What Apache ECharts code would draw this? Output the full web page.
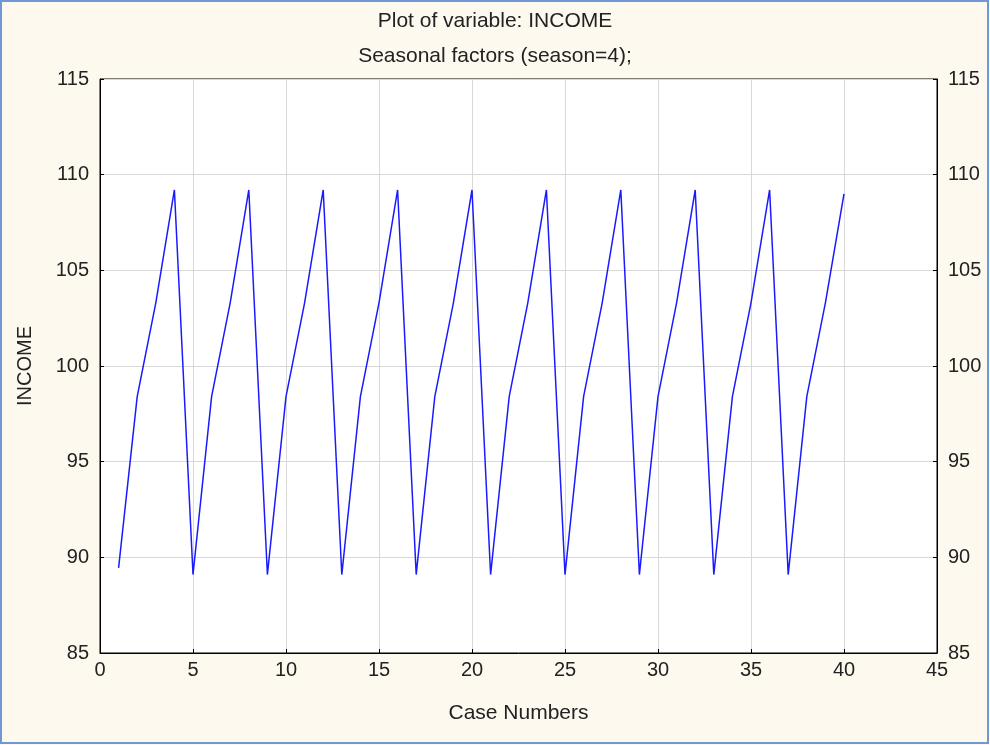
<!DOCTYPE html>
<html>
<head>
<meta charset="utf-8">
<script src="https://cdn.jsdelivr.net/npm/echarts@6/dist/echarts.min.js"></script>
<style>
html,body{margin:0;padding:0;background:#fdf9ef;}
#chart{width:990px;height:745px;}
</style>
</head>
<body>
<div id="chart"></div>
<script>
const titleText = "Plot of variable: INCOME";
const subtitleText = "Seasonal factors (season=4);";
const xAxisName = "Case Numbers";
const yAxisName = "INCOME";
const xTicks = [0, 5, 10, 15, 20, 25, 30, 35, 40, 45];
const yTicks = [85, 90, 95, 100, 105, 110, 115];
const caseNumbers = [1,2,3,4,5,6,7,8,9,10,11,12,13,14,15,16,17,18,19,20,
                     21,22,23,24,25,26,27,28,29,30,31,32,33,34,35,36,37,38,39,40];
const incomeValues = [
  89.45, 98.4, 103.3, 109.2,
  89.1, 98.4, 103.3, 109.2,
  89.1, 98.4, 103.3, 109.2,
  89.1, 98.4, 103.3, 109.2,
  89.1, 98.4, 103.3, 109.2,
  89.1, 98.4, 103.3, 109.2,
  89.1, 98.4, 103.3, 109.2,
  89.1, 98.4, 103.3, 109.2,
  89.1, 98.4, 103.3, 109.2,
  89.1, 98.4, 103.3, 109.0
];

const chart = echarts.init(document.getElementById('chart'), null, {renderer: 'canvas'});
const fontFamily = '"Liberation Sans", Arial, sans-serif';
const textColor = '#222';
const fs = 20;
const tfs = 21;

function yAxisDef(pos) {
  return {
    type: 'value',
    position: pos,
    min: yTicks[0],
    max: yTicks[yTicks.length - 1],
    interval: yTicks[1] - yTicks[0],
    axisLine: {show: true, onZero: false, lineStyle: {color: '#000', width: 1}},
    axisTick: {show: true, inside: true, length: 4, lineStyle: {color: '#000'}},
    axisLabel: {color: textColor, fontSize: fs, fontFamily: fontFamily, margin: 11},
    splitLine: {show: pos === 'left', lineStyle: {color: '#d9d9d9', width: 1}}
  };
}

const y0 = yAxisDef('left');
y0.name = yAxisName;
y0.nameLocation = 'middle';
y0.nameGap = 65;
y0.nameRotate = 90;
y0.nameTextStyle = {color: textColor, fontSize: fs, fontFamily: fontFamily};

chart.setOption({
  animation: false,
  backgroundColor: '#fdf9ef',
  title: [
    {text: titleText, left: 'center', top: 6,
     textStyle: {color: textColor, fontSize: tfs, fontWeight: 'normal', fontFamily: fontFamily}},
    {text: subtitleText, left: 'center', top: 41,
     textStyle: {color: textColor, fontSize: tfs, fontWeight: 'normal', fontFamily: fontFamily}}
  ],
  grid: {
    left: 100, right: 53, top: 79, bottom: 92,
    show: true, backgroundColor: '#ffffff', borderColor: '#000', borderWidth: 1
  },
  xAxis: {
    type: 'value',
    min: xTicks[0],
    max: xTicks[xTicks.length - 1],
    interval: xTicks[1] - xTicks[0],
    name: xAxisName,
    nameLocation: 'middle',
    nameGap: 50,
    nameTextStyle: {color: textColor, fontSize: tfs, fontFamily: fontFamily},
    axisLine: {show: true, onZero: false, lineStyle: {color: '#000', width: 1}},
    axisTick: {show: true, inside: true, length: 4, lineStyle: {color: '#000'}},
    axisLabel: {color: textColor, fontSize: fs, fontFamily: fontFamily, margin: 7},
    splitLine: {show: true, lineStyle: {color: '#d9d9d9', width: 1}}
  },
  yAxis: [y0, yAxisDef('right')],
  graphic: [{
    type: 'rect', silent: true, z: 100,
    shape: {x: 1, y: 1, width: 987, height: 742},
    style: {fill: 'none', stroke: '#6f98d4', lineWidth: 2}
  }],
  series: [{
    type: 'line',
    data: caseNumbers.map((c, i) => [c, incomeValues[i]]),
    showSymbol: false,
    symbol: 'none',
    lineStyle: {color: '#1a1aff', width: 1.5},
    itemStyle: {color: '#1a1aff'}
  }]
});
</script>
</body>
</html>
